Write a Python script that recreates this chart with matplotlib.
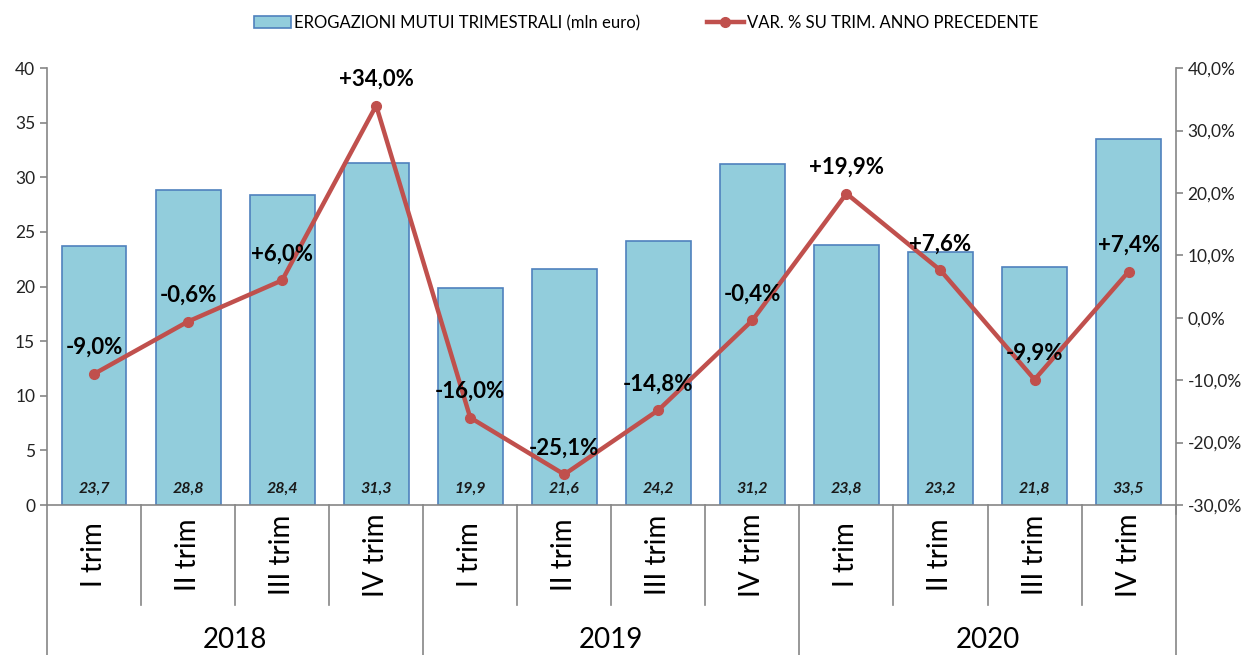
import matplotlib.pyplot as plt
from matplotlib.lines import Line2D
from matplotlib.patches import Patch

plt.rcParams['font.family'] = ['Lato', 'DejaVu Sans']

quarters = ['I trim', 'II trim', 'III trim', 'IV trim'] * 3
years = ['2018', '2019', '2020']
erogazioni = [23.7, 28.8, 28.4, 31.3, 19.9, 21.6, 24.2, 31.2, 23.8, 23.2, 21.8, 33.5]
var_pct = [-9.0, -0.6, 6.0, 34.0, -16.0, -25.1, -14.8, -0.4, 19.9, 7.6, -9.9, 7.4]

bar_color = '#92CDDC'
bar_edge = '#4F81BD'
line_color = '#C0504D'
axis_gray = '#868686'

fig = plt.figure(figsize=(12.43, 6.55), dpi=100)
ax = fig.add_axes([0.0378, 0.229, 0.908, 0.667])
ax2 = ax.twinx()

x = list(range(len(erogazioni)))
ax.bar(x, erogazioni, width=0.69, color=bar_color, edgecolor=bar_edge, linewidth=1.2, zorder=2)
for xi, v in zip(x, erogazioni):
    ax.text(xi, 1.5, f'{v:.1f}'.replace('.', ','), ha='center', va='center',
            fontsize=11.5, fontweight='bold', fontstyle='italic', color='#1a1a1a')

ax2.plot(x, var_pct, color=line_color, linewidth=3.2, marker='o', markersize=7, zorder=3)
for xi, v in zip(x, var_pct):
    s = ('+' if v > 0 else '') + f'{v:.1f}'.replace('.', ',') + '%'
    ax2.annotate(s, (xi, v), xytext=(0, 19), textcoords='offset points',
                 ha='center', va='center', fontsize=16, fontweight='bold', color='black')

ax.set_xlim(-0.5, len(x) - 0.5)
ax.set_ylim(0, 40)
ax.set_yticks(range(0, 41, 5))
ax2.set_ylim(-30, 40)
ax2.set_yticks(range(-30, 41, 10))
ax2.set_yticklabels([f'{t:.1f}'.replace('.', ',') + '%' for t in range(-30, 41, 10)])

for a in (ax, ax2):
    a.spines['top'].set_visible(False)
    for sp in ('left', 'right', 'bottom'):
        a.spines[sp].set_color(axis_gray)
        a.spines[sp].set_linewidth(1.2)
    a.tick_params(axis='y', colors=axis_gray, labelcolor='#222222', labelsize=12.5, length=5, width=1.2)
ax2.spines['left'].set_visible(False)
ax.spines['right'].set_visible(False)
ax.spines['left'].set_visible(False)
ax2.spines['bottom'].set_visible(False)
ax2.spines['right'].set_bounds(-31.5, 40)

ax.set_xticks([])

# category axis with grouped labels
tr = ax.get_xaxis_transform()
for k in range(len(x) + 1):
    if k % 4 == 0:
        ax.add_line(Line2D([k - 0.5, k - 0.5], [0, -0.35], transform=tr, color=axis_gray,
                           linewidth=1.2, clip_on=False))
    else:
        ax.add_line(Line2D([k - 0.5, k - 0.5], [0, -0.229], transform=tr, color=axis_gray,
                           linewidth=1.2, clip_on=False))
ax.add_line(Line2D([-0.5, -0.5], [0, 1], transform=tr, color=axis_gray, linewidth=1.2, clip_on=False))
for xi, q in zip(x, quarters):
    ax.text(xi, -0.114, q, transform=tr, rotation=90, ha='center', va='center',
            fontsize=20, color='black')
for i, y in enumerate(years):
    ax.text(4 * i + 1.5, -0.309, y, transform=tr, ha='center', va='center',
            fontsize=20, color='black')

handles = [Patch(facecolor=bar_color, edgecolor=bar_edge, linewidth=1.2),
           Line2D([], [], color=line_color, linewidth=3.2, marker='o', markersize=7)]
labels = ['EROGAZIONI MUTUI TRIMESTRALI (mln euro)', 'VAR. % SU TRIM. ANNO PRECEDENTE']
fig.legend(handles, labels, loc='upper center', bbox_to_anchor=(0.52, 1.0), ncol=2,
           frameon=False, fontsize=12, handlelength=2.2, handletextpad=0.2, columnspacing=4)

fig.savefig('out.png', dpi=100)
plt.close(fig)
